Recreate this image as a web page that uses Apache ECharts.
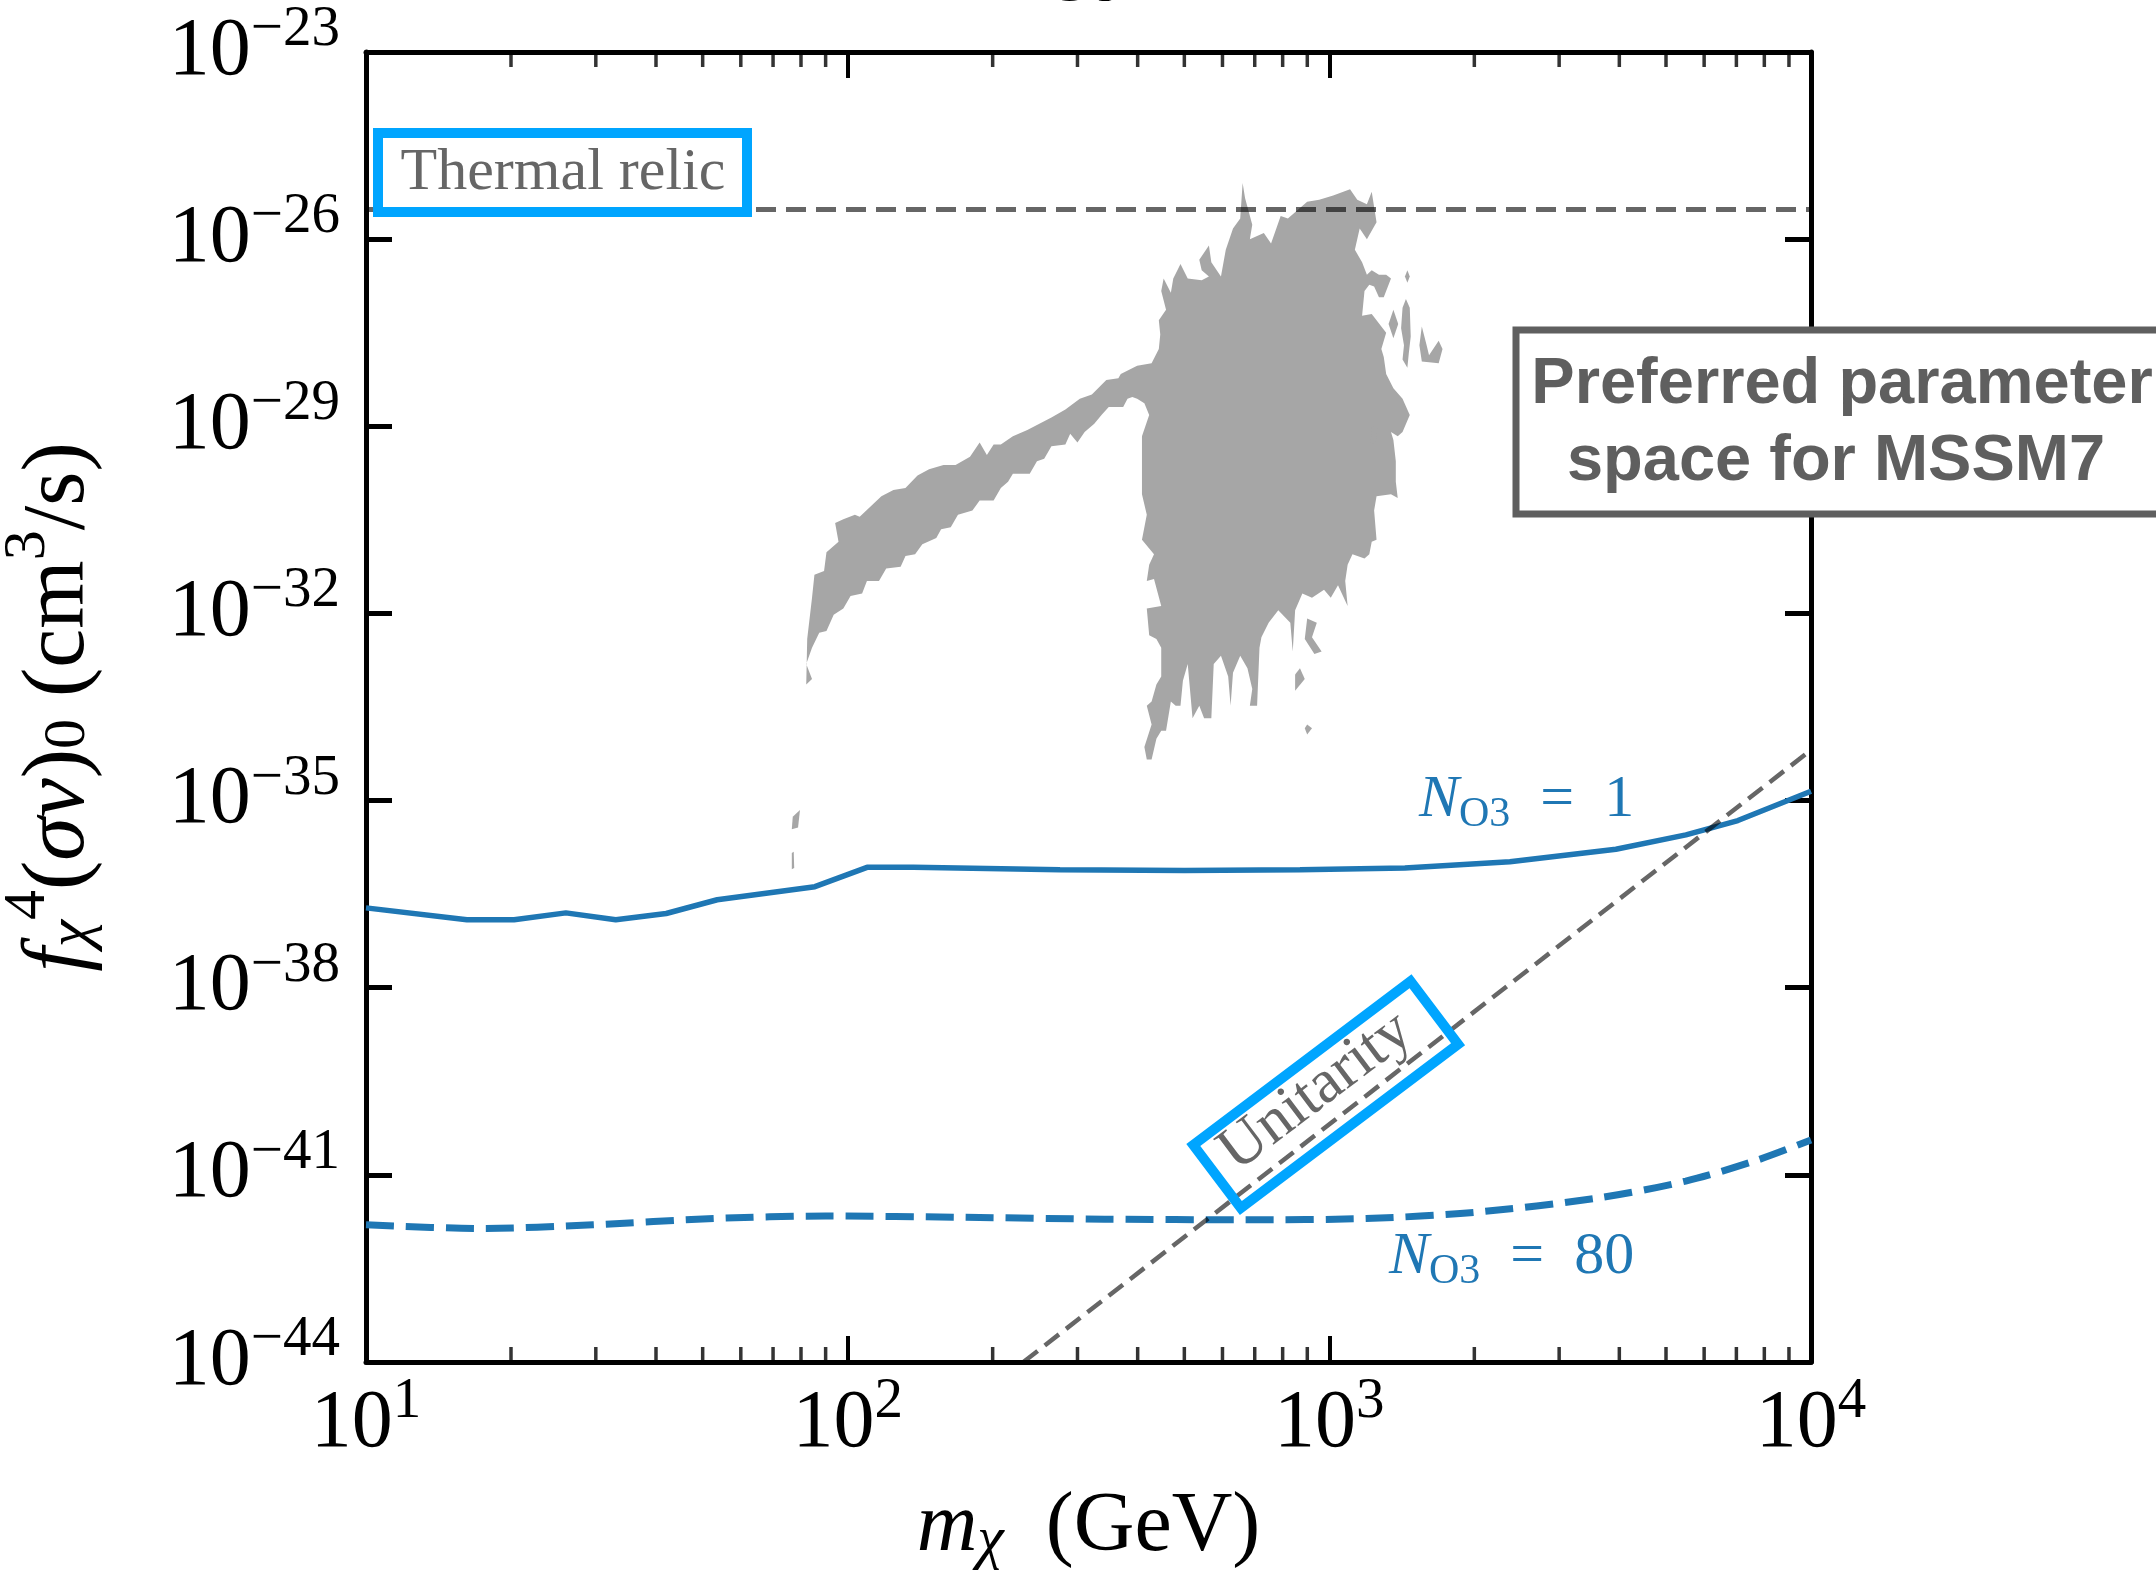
<!DOCTYPE html>
<html>
<head>
<meta charset="utf-8">
<script src="https://cdn.jsdelivr.net/npm/echarts@6/dist/echarts.min.js"></script>
<style>
html, body { margin: 0; padding: 0; background: #fff; }
#chart { width: 2156px; height: 1575px; }
</style>
</head>
<body>
<div id="chart"></div>
<script>
// axes
const xMinorMantissas = [2, 3, 4, 5, 6, 7, 8, 9];
const xMinorTicks = [10, 100, 1000].flatMap((d) => xMinorMantissas.map((k) => k * d));
const yMin = -44;
const yMax = -23;
const yStep = 3;

// N_O3 = 1 (solid), log10 of f^4 <sigma v>
const n1Mass = [10, 16.2, 20.3, 26.0, 33.0, 42.0, 53.6, 85.5, 109.7, 137, 276, 500, 869, 1435, 2371, 3935, 5500, 7050, 10000];
const n1LogSv = [-36.72, -36.91, -36.91, -36.80, -36.91, -36.81, -36.59, -36.38, -36.07, -36.07, -36.11, -36.12, -36.11, -36.08, -35.98, -35.78, -35.55, -35.32, -34.85];

// N_O3 = 80 (dashed)
const n80Mass = [10, 17.3, 29.6, 52.7, 89.9, 175, 342, 668, 1191, 2004, 3614, 5495, 7690, 10000];
const n80LogSv = [-41.80, -41.86, -41.80, -41.70, -41.66, -41.68, -41.71, -41.72, -41.70, -41.60, -41.37, -41.10, -40.77, -40.44];

// thermal relic and unitarity
const thermalRelic = 3e-26;
const unitarityMass = [231.7, 10000];
const unitarityLogSv = [-44, -34.19];

// preferred MSSM7 region: [log10 mass, log10 sigma v]
const blobOutline = [
  [1.914,-33.14],[1.916,-32.41],[1.926,-31.75],[1.931,-31.38],[1.951,-31.32],[1.956,-31.02],[1.981,-30.85],[1.974,-30.55],
  [1.991,-30.49],[2.015,-30.42],[2.025,-30.45],[2.070,-30.12],[2.095,-30.02],[2.120,-29.99],[2.145,-29.79],[2.169,-29.69],
  [2.199,-29.62],[2.224,-29.62],[2.254,-29.49],[2.274,-29.26],[2.289,-29.46],[2.303,-29.29],[2.318,-29.29],[2.343,-29.16],
  [2.373,-29.06],[2.398,-28.96],[2.423,-28.86],[2.452,-28.73],[2.482,-28.56],[2.507,-28.49],[2.537,-28.26],[2.562,-28.23],
  [2.567,-28.16],[2.601,-28.03],[2.631,-27.99],[2.646,-27.76],[2.649,-27.53],[2.646,-27.30],[2.661,-27.13],[2.651,-26.83],
  [2.656,-26.63],[2.671,-26.86],[2.676,-26.63],[2.691,-26.40],[2.706,-26.63],[2.735,-26.66],[2.750,-26.60],[2.735,-26.50],
  [2.730,-26.33],[2.750,-26.10],[2.755,-26.37],[2.775,-26.60],[2.785,-26.17],[2.800,-25.83],[2.815,-25.67],[2.820,-25.10],
  [2.825,-25.34],[2.840,-25.77],[2.835,-26.00],[2.864,-25.90],[2.879,-26.07],[2.899,-25.63],[2.914,-25.67],[2.954,-25.40],
  [2.979,-25.37],[3.008,-25.30],[3.043,-25.20],[3.058,-25.37],[3.078,-25.44],[3.088,-25.24],[3.098,-25.73],[3.078,-26.00],
  [3.063,-25.83],[3.053,-26.17],[3.068,-26.37],[3.078,-26.57],[3.088,-26.50],[3.103,-26.57],[3.118,-26.57],[3.128,-26.63],
  [3.113,-26.93],[3.103,-26.93],[3.093,-26.76],[3.083,-26.73],[3.073,-26.83],[3.068,-27.23],[3.088,-27.20],[3.118,-27.50],
  [3.108,-27.76],[3.113,-27.89],[3.118,-28.16],[3.133,-28.39],[3.152,-28.56],[3.167,-28.82],[3.152,-29.09],[3.142,-29.16],
  [3.128,-29.09],[3.133,-29.22],[3.138,-29.56],[3.138,-29.89],[3.142,-30.15],[3.128,-30.09],[3.098,-30.12],[3.093,-30.35],
  [3.098,-30.82],[3.088,-30.85],[3.083,-31.05],[3.073,-31.12],[3.048,-31.05],[3.038,-31.22],[3.033,-31.48],[3.038,-31.88],
  [3.018,-31.55],[3.003,-31.75],[2.989,-31.62],[2.964,-31.75],[2.944,-31.68],[2.929,-31.95],[2.924,-32.61],[2.919,-32.15],
  [2.894,-31.95],[2.874,-32.15],[2.859,-32.38],[2.855,-32.55],[2.850,-33.48],[2.835,-33.48],[2.840,-33.21],[2.830,-32.88],
  [2.815,-32.68],[2.800,-32.95],[2.795,-33.48],[2.790,-33.01],[2.775,-32.68],[2.760,-32.81],[2.755,-33.68],[2.740,-33.68],
  [2.730,-33.48],[2.716,-33.68],[2.706,-32.81],[2.696,-33.08],[2.691,-33.48],[2.681,-33.48],[2.671,-33.41],[2.661,-33.88],
  [2.651,-33.88],[2.641,-34.01],[2.631,-34.34],[2.621,-34.34],[2.616,-34.14],[2.631,-33.78],[2.621,-33.48],[2.631,-33.41],
  [2.641,-33.14],[2.651,-33.01],[2.651,-32.55],[2.641,-32.41],[2.626,-32.35],[2.621,-31.92],[2.651,-31.88],[2.636,-31.45],
  [2.621,-31.48],[2.626,-31.22],[2.636,-31.05],[2.611,-30.82],[2.621,-30.42],[2.611,-30.09],[2.611,-29.16],[2.626,-28.82],
  [2.616,-28.63],[2.601,-28.56],[2.591,-28.53],[2.581,-28.56],[2.572,-28.69],[2.542,-28.69],[2.527,-28.82],[2.512,-28.96],
  [2.492,-29.09],[2.477,-29.26],[2.462,-29.12],[2.452,-29.29],[2.423,-29.32],[2.408,-29.52],[2.393,-29.56],[2.378,-29.76],
  [2.343,-29.76],[2.333,-29.89],[2.318,-29.99],[2.303,-30.19],[2.274,-30.19],[2.259,-30.35],[2.229,-30.42],[2.214,-30.62],
  [2.194,-30.65],[2.184,-30.79],[2.155,-30.89],[2.140,-31.05],[2.120,-31.08],[2.110,-31.25],[2.080,-31.28],[2.065,-31.48],
  [2.040,-31.48],[2.030,-31.68],[2.006,-31.72],[1.991,-31.92],[1.971,-32.02],[1.956,-32.28],[1.941,-32.31],[1.926,-32.55],
  [1.914,-32.81],[1.926,-33.05]
];
// small detached patches
const blobPatches = [
  [[3.162,-26.50],[3.167,-26.60],[3.162,-26.70],[3.157,-26.60]],
  [[3.159,-26.96],[3.167,-27.10],[3.169,-27.56],[3.165,-27.83],[3.162,-28.06],[3.152,-27.93],[3.155,-27.70],[3.149,-27.43],[3.152,-27.10]],
  [[3.192,-27.40],[3.202,-27.70],[3.207,-27.86],[3.227,-27.63],[3.235,-27.76],[3.227,-27.99],[3.192,-27.96],[3.187,-27.70]],
  [[3.133,-27.13],[3.143,-27.36],[3.133,-27.59],[3.123,-27.36]],
  [[3.088,-29.02],[3.100,-28.99],[3.096,-29.29],[3.086,-29.26]],
  [[2.954,-32.08],[2.974,-32.15],[2.964,-32.38],[2.984,-32.61],[2.969,-32.65],[2.949,-32.41]],
  [[2.929,-32.98],[2.939,-32.88],[2.949,-33.05],[2.929,-33.24]],
  [[2.954,-33.78],[2.964,-33.84],[2.954,-33.94],[2.949,-33.84]],
  [[1.886,-35.26],[1.901,-35.15],[1.897,-35.43],[1.884,-35.46]],
  [[1.884,-35.84],[1.888,-35.82],[1.889,-36.08],[1.884,-36.10]]
];
const blobShapes = [blobOutline].concat(blobPatches);

const serif = 'Liberation Serif';
const blue = '#1f77b4';
const cyan = '#00a5ff';

const tickRich = {
  b: { fontFamily: serif, fontSize: 82, lineHeight: 90, color: '#000' },
  s: { fontFamily: serif, fontSize: 57, lineHeight: 90, padding: [0, 0, 44, 0], color: '#000' },
};

function xAxisDef(pos, showLabel) {
  return {
    type: 'log',
    logBase: 10,
    min: 10,
    max: 10000,
    position: pos,
    axisLine: { show: true, onZero: false, lineStyle: { color: '#000', width: 5 } },
    axisTick: { show: true, inside: true, length: 26, lineStyle: { color: '#000', width: 4 } },
    axisLabel: {
      show: showLabel,
      margin: 17,
      fontFamily: serif,
      formatter: (v) => '{b|10}{s|' + Math.round(Math.log10(v)) + '}',
      rich: tickRich,
    },
    splitLine: { show: false },
  };
}

function yAxisDef(pos, showLabel) {
  return {
    type: 'value',
    min: yMin,
    max: yMax,
    interval: yStep,
    position: pos,
    axisLine: { show: true, onZero: false, lineStyle: { color: '#000', width: 5 } },
    axisTick: { show: true, inside: true, length: 26, lineStyle: { color: '#000', width: 5 } },
    axisLabel: {
      show: showLabel,
      margin: 26,
      fontFamily: serif,
      formatter: (v) => '{b|10}{s|\u2212' + Math.abs(v) + '}',
      rich: tickRich,
    },
    splitLine: { show: false },
  };
}

const xName = '{i|m}{sub|\u03c7}{r|  (GeV)}';
const yName = '{i|f}{sub|\u03c7}{sup|4}{r|(}{i|\u03c3v}{r|)}{sub0|0}{r| (cm}{sup|3}{r|/s)}';
const nameRich = {
  r: { fontFamily: serif, fontSize: 88, lineHeight: 104, color: '#000' },
  i: { fontFamily: serif, fontStyle: 'italic', fontSize: 88, lineHeight: 104, color: '#000' },
  sub: { fontFamily: serif, fontStyle: 'italic', fontSize: 62, lineHeight: 104, padding: [26, 0, 0, 0], color: '#000' },
  sub0: { fontFamily: serif, fontSize: 60, lineHeight: 104, padding: [16, 0, 0, 0], color: '#000' },
  sup: { fontFamily: serif, fontSize: 60, lineHeight: 104, padding: [0, 0, 64, 0], color: '#000' },
};
const xNameRich = {
  r: { fontFamily: serif, fontSize: 84, lineHeight: 100, color: '#000' },
  i: { fontFamily: serif, fontStyle: 'italic', fontSize: 84, lineHeight: 100, color: '#000' },
  sub: { fontFamily: serif, fontStyle: 'italic', fontSize: 60, lineHeight: 100, padding: [26, 0, 0, 0], color: '#000' },
};

const labelRich = {
  n: { fontFamily: serif, fontStyle: 'italic', fontSize: 60, lineHeight: 70, fill: blue },
  o: { fontFamily: serif, fontSize: 42, lineHeight: 70, padding: [30, 0, 0, 0], fill: blue },
  r: { fontFamily: serif, fontSize: 60, lineHeight: 70, fill: blue },
};

const xAxes = [xAxisDef('bottom', true), xAxisDef('top', false)];
xAxes[0].name = xName;
xAxes[0].nameLocation = 'middle';
xAxes[0].nameGap = 116;
xAxes[0].nameTextStyle = { rich: xNameRich };

const yAxes = [yAxisDef('left', true), yAxisDef('right', false)];
yAxes[0].name = yName;
yAxes[0].nameLocation = 'middle';
yAxes[0].nameRotate = 90;
yAxes[0].nameGap = 254;
yAxes[0].nameTextStyle = { rich: nameRich };

const rot = 37 * Math.PI / 180;

const chart = echarts.init(document.getElementById('chart'), null, { renderer: 'canvas' });
chart.setOption({
  animation: false,
  backgroundColor: '#fff',
  grid: { left: 366, right: 345, top: 52, bottom: 213, containLabel: false, outerBoundsMode: 'none' },
  xAxis: xAxes,
  yAxis: yAxes,
  series: [
    {
      type: 'custom',
      name: 'MSSM7',
      coordinateSystem: 'cartesian2d',
      xAxisIndex: 0,
      yAxisIndex: 0,
      silent: true,
      z: 1,
      data: blobShapes.map((pts, i) => [Math.pow(10, pts[0][0]), pts[0][1], i]),
      encode: { x: 0, y: 1 },
      renderItem: (params, api) => {
        const pts = blobShapes[params.dataIndex].map((p) => api.coord([Math.pow(10, p[0]), p[1]]));
        return { type: 'polygon', shape: { points: pts }, style: { fill: '#a6a6a6', stroke: null } };
      },
    },
    {
      // minor log ticks on the bottom frame
      type: 'scatter',
      name: 'minor ticks bottom',
      xAxisIndex: 0,
      yAxisIndex: 0,
      z: 10,
      symbol: 'rect',
      symbolSize: [3.5, 15],
      symbolOffset: [0, -7.5],
      itemStyle: { color: '#000' },
      data: xMinorTicks.map((v) => [v, yMin]),
    },
    {
      // minor log ticks on the top frame
      type: 'scatter',
      name: 'minor ticks top',
      xAxisIndex: 0,
      yAxisIndex: 0,
      z: 10,
      symbol: 'rect',
      symbolSize: [3.5, 15],
      symbolOffset: [0, 7.5],
      itemStyle: { color: '#000' },
      data: xMinorTicks.map((v) => [v, yMax]),
    },
    {
      type: 'line',
      name: 'N_O3 = 1',
      xAxisIndex: 0,
      yAxisIndex: 0,
      z: 3,
      symbol: 'none',
      data: n1Mass.map((m, i) => [m, n1LogSv[i]]),
      lineStyle: { color: blue, width: 5.5 },
    },
    {
      type: 'line',
      name: 'N_O3 = 80',
      xAxisIndex: 0,
      yAxisIndex: 0,
      z: 3,
      symbol: 'none',
      smooth: 0.3,
      data: n80Mass.map((m, i) => [m, n80LogSv[i]]),
      lineStyle: { color: blue, width: 7, type: [28, 12] },
    },
    {
      type: 'line',
      name: 'Thermal relic',
      xAxisIndex: 0,
      yAxisIndex: 0,
      z: 4,
      symbol: 'none',
      data: [[10, Math.log10(thermalRelic)], [10000, Math.log10(thermalRelic)]],
      lineStyle: { color: 'rgba(0,0,0,0.6)', width: 5, type: [20, 10] },
    },
    {
      type: 'line',
      name: 'Unitarity',
      xAxisIndex: 0,
      yAxisIndex: 0,
      z: 4,
      symbol: 'none',
      data: unitarityMass.map((m, i) => [m, unitarityLogSv[i]]),
      lineStyle: { color: 'rgba(0,0,0,0.6)', width: 4.5, type: [18, 9] },
    },
  ],
  graphic: [
    {
      type: 'text', z: 100, x: 1046, y: -38,
      style: { text: 'gy,', font: 'bold 80px "Liberation Sans"', fill: '#000', align: 'left', verticalAlign: 'middle' },
    },
    {
      type: 'rect', z: 100, x: 378, y: 133,
      shape: { x: 0, y: 0, width: 369, height: 79 },
      style: { fill: '#fff', stroke: cyan, lineWidth: 10 },
    },
    {
      type: 'text', z: 101, x: 563, y: 173,
      style: { text: 'Thermal relic', font: '60px "Liberation Serif"', fill: '#666', align: 'center', verticalAlign: 'middle' },
    },
    {
      type: 'rect', z: 100, x: 1326, y: 1095, rotation: rot,
      shape: { x: -136, y: -40, width: 272, height: 79 },
      style: { fill: 'none', stroke: cyan, lineWidth: 10 },
    },
    {
      type: 'text', z: 101, x: 1316, y: 1092, rotation: rot,
      style: { text: 'Unitarity', font: '62px "Liberation Serif"', fill: '#666', align: 'center', verticalAlign: 'middle' },
    },
    {
      type: 'rect', z: 100, x: 1516, y: 330,
      shape: { x: 0, y: 0, width: 700, height: 184 },
      style: { fill: '#fff', stroke: '#5f5f5f', lineWidth: 7 },
    },
    {
      type: 'text', z: 101, x: 1842, y: 385,
      style: { text: 'Preferred parameter', font: 'bold 65px "Liberation Sans"', fill: '#5f5f5f', align: 'center', verticalAlign: 'middle' },
    },
    {
      type: 'text', z: 101, x: 1836, y: 462,
      style: { text: 'space for MSSM7', font: 'bold 65px "Liberation Sans"', fill: '#5f5f5f', align: 'center', verticalAlign: 'middle' },
    },
    {
      type: 'text', z: 101, x: 1419, y: 800,
      style: { text: '{n|N}{o|O3}{r|  =  1}', rich: labelRich, fill: blue, align: 'left', verticalAlign: 'middle' },
    },
    {
      type: 'text', z: 101, x: 1389, y: 1257,
      style: { text: '{n|N}{o|O3}{r|  =  80}', rich: labelRich, fill: blue, align: 'left', verticalAlign: 'middle' },
    },
  ],
});
</script>
</body>
</html>
